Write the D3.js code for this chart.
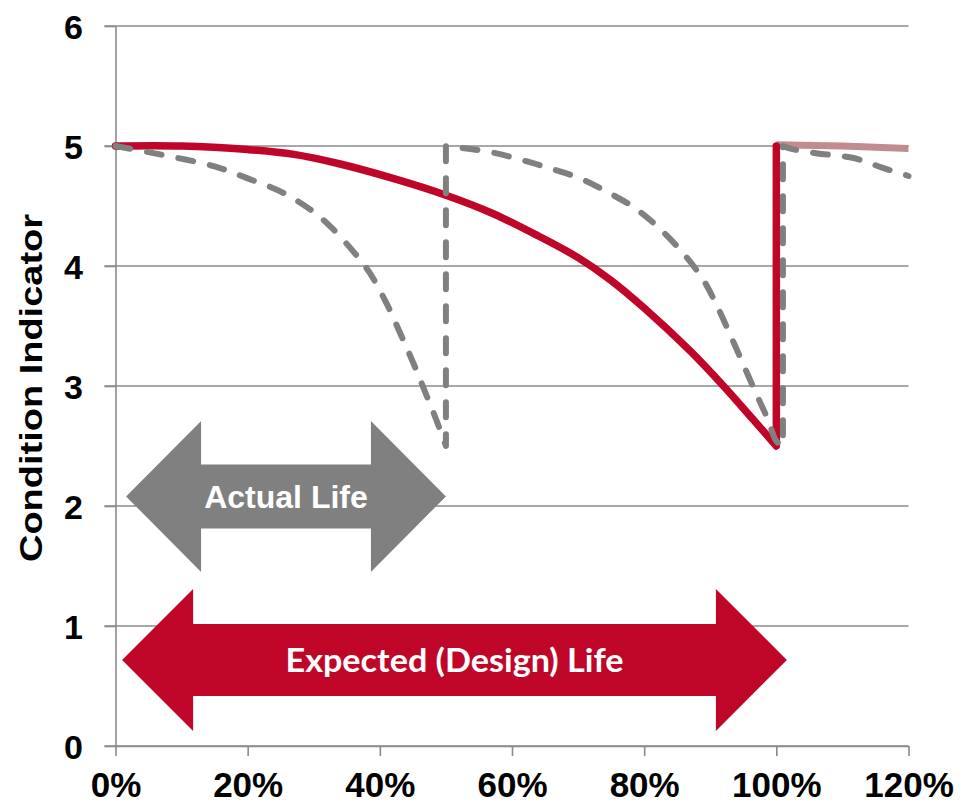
<!DOCTYPE html>
<html>
<head>
<meta charset="utf-8">
<script src="https://cdn.jsdelivr.net/npm/d3@7/dist/d3.min.js"></script>
<style>
  html, body { margin: 0; padding: 0; background: #ffffff; }
  svg { display: block; }
</style>
</head>
<body>
<svg id="chart" width="967" height="806"></svg>
<script>
// Axis ticks
const xTicks = [0, 20, 40, 60, 80, 100, 120];
const yTicks = [0, 1, 2, 3, 4, 5, 6];

// Expected (design) deterioration path: [percent of design life, condition]
const expectedLife = [
  [0, 5.0], [10, 5.0], [20, 4.97], [27, 4.93], [34, 4.85], [42, 4.73],
  [50, 4.59], [57, 4.44], [64, 4.25], [70, 4.07], [75, 3.88], [80, 3.65],
  [87, 3.29], [92, 3.0], [96.5, 2.72], [100, 2.5]
];
// Renewal back to full condition at the end of design life
const expectedRenewal = [[100, 2.5], [100, 5.0]];
// Expected path after renewal
const expectedNext = [[100, 5.01], [110, 5.0], [120, 4.98]];

// Actual deterioration cycles (each ends with a renewal)
const actualCycle1 = [
  [0, 5.0], [6.7, 4.93], [15, 4.83], [20, 4.73], [25, 4.62], [29.5, 4.47],
  [32.5, 4.33], [36, 4.12], [38.5, 3.94], [41, 3.69], [43, 3.45], [45, 3.2],
  [47, 2.93], [48.6, 2.71], [50, 2.5]
];
const actualRenewal1 = [[50, 2.5], [50, 5.0]];
const actualCycle2 = [
  [50, 5.0], [56.7, 4.95], [61.7, 4.88], [66, 4.81], [70.3, 4.73], [74.3, 4.62],
  [78.4, 4.49], [82, 4.33], [86, 4.1], [89, 3.88], [91, 3.67], [93, 3.43],
  [95, 3.18], [97, 2.93], [98.8, 2.71], [100, 2.54], [101, 2.5]
];
const actualRenewal2 = [[101, 2.5], [101, 5.0]];
const actualCycle3 = [[101, 5.0], [102, 4.98], [106, 4.94], [111.7, 4.9], [116, 4.82], [120, 4.75]];

// Life-span annotations: start/end in percent, level in condition units
const arrowLabels = ["Actual Life", "Expected (Design) Life"];
const arrowStarts = [1.6, 1.0];
const arrowEnds = [50, 101.6];
const arrowLevels = [2.08, 0.717];

const svg = d3.select("#chart");
const W = 967, H = 806;
svg.append("rect").attr("width", W).attr("height", H).attr("fill", "#ffffff");

const x = d3.scaleLinear().domain([0, 120]).range([115.5, 908.5]);
const y = d3.scaleLinear().domain([0, 6]).range([746, 26]);

const gridColor = "#8a8a8a";
const red = "#c00628";
const gray = "#808080";

// Horizontal gridlines (with left tick extension)
svg.append("g").selectAll("line").data(yTicks).join("line")
  .attr("x1", x(0) - 11).attr("x2", x(120))
  .attr("y1", d => y(d)).attr("y2", d => y(d))
  .attr("stroke", gridColor).attr("stroke-width", 1.6);

// Y axis
const yAxis = svg.append("g").attr("transform", `translate(${x(0)},0)`)
  .call(d3.axisLeft(y).tickValues(yTicks).tickFormat(d3.format("d")).tickSize(11).tickSizeOuter(0));
yAxis.select(".domain").attr("stroke", gridColor).attr("stroke-width", 1.6);
yAxis.selectAll(".tick line").attr("stroke", gridColor).attr("stroke-width", 1.6);
yAxis.selectAll(".tick text")
  .attr("x", -(x(0) - 83)).attr("dy", "0.36em")
  .attr("font-family", "'Liberation Sans', Arial, sans-serif")
  .attr("font-weight", "bold").attr("font-size", 34).attr("fill", "#000");

// X axis
const xAxis = svg.append("g").attr("transform", `translate(0,${y(0)})`)
  .call(d3.axisBottom(x).tickValues(xTicks).tickFormat(d => d + "%").tickSize(10).tickSizeOuter(0));
xAxis.select(".domain").attr("stroke", gridColor).attr("stroke-width", 1.6);
xAxis.selectAll(".tick line").attr("stroke", gridColor).attr("stroke-width", 1.6);
xAxis.selectAll(".tick text")
  .attr("y", 51).attr("dy", 0)
  .attr("font-family", "'Liberation Sans', Arial, sans-serif")
  .attr("font-weight", "bold").attr("font-size", 35).attr("fill", "#000");

// Y axis title
svg.append("text")
  .attr("transform", `translate(42,388) rotate(-90)`)
  .attr("text-anchor", "middle")
  .attr("font-family", "'Liberation Sans', Arial, sans-serif")
  .attr("font-weight", "bold").attr("font-size", 31)
  .attr("textLength", 348).attr("lengthAdjust", "spacingAndGlyphs")
  .attr("fill", "#000")
  .text("Condition Indicator");

// Double-headed life arrows
const arrowStyles = [
  { fill: gray, shaftHalf: 32, headHalf: 75.5, headLen: 75, font: "'Liberation Sans', Arial, sans-serif", size: 32, dy: 11.5, len: null },
  { fill: red, shaftHalf: 36, headHalf: 71, headLen: 71, font: "Lato, 'Open Sans', sans-serif", size: 33, dy: 11.7, len: 338 }
];
arrowLabels.forEach((label, i) => {
  const s = arrowStyles[i];
  const x0 = x(arrowStarts[i]), x1 = x(arrowEnds[i]), cy = y(arrowLevels[i]);
  const pts = [
    [x0, cy], [x0 + s.headLen, cy - s.headHalf], [x0 + s.headLen, cy - s.shaftHalf],
    [x1 - s.headLen, cy - s.shaftHalf], [x1 - s.headLen, cy - s.headHalf], [x1, cy],
    [x1 - s.headLen, cy + s.headHalf], [x1 - s.headLen, cy + s.shaftHalf],
    [x0 + s.headLen, cy + s.shaftHalf], [x0 + s.headLen, cy + s.headHalf]
  ];
  svg.append("path").attr("d", "M" + pts.join("L") + "Z").attr("fill", s.fill);
  const t = svg.append("text")
    .attr("x", (x0 + x1) / 2).attr("y", cy + s.dy)
    .attr("text-anchor", "middle")
    .attr("font-family", s.font).attr("font-weight", "bold").attr("font-size", s.size)
    .attr("fill", "#ffffff")
    .text(label);
  if (s.len) t.attr("textLength", s.len).attr("lengthAdjust", "spacingAndGlyphs");
});

// Path builder: joins smooth and straight pieces into one continuous path
const smooth = d3.line().x(d => x(d[0])).y(d => y(d[1])).curve(d3.curveCatmullRom.alpha(0.5));
const straight = d3.line().x(d => x(d[0])).y(d => y(d[1]));
function joined(pieces) {
  return pieces.map((p, i) => {
    const d = (p.smooth ? smooth : straight)(p.pts);
    return i === 0 ? d : "L" + d.slice(1);
  }).join("");
}

// Expected path after renewal (faded)
svg.append("path")
  .attr("d", smooth(expectedNext))
  .attr("fill", "none").attr("stroke", "#c28b8f").attr("stroke-width", 7);

// Expected deterioration and renewal
svg.append("path")
  .attr("d", joined([{ smooth: true, pts: expectedLife }, { smooth: false, pts: expectedRenewal }]))
  .attr("fill", "none").attr("stroke", red).attr("stroke-width", 7.5)
  .attr("stroke-linejoin", "round").attr("stroke-linecap", "round");

// Actual deterioration cycles
svg.append("path")
  .attr("d", joined([
    { smooth: true, pts: actualCycle1 }, { smooth: false, pts: actualRenewal1 },
    { smooth: true, pts: actualCycle2 }, { smooth: false, pts: actualRenewal2 },
    { smooth: true, pts: actualCycle3 }
  ]))
  .attr("fill", "none").attr("stroke", gray).attr("stroke-width", 6)
  .attr("stroke-dasharray", "15,17").attr("stroke-linecap", "round").attr("stroke-linejoin", "round");
</script>
</body>
</html>
